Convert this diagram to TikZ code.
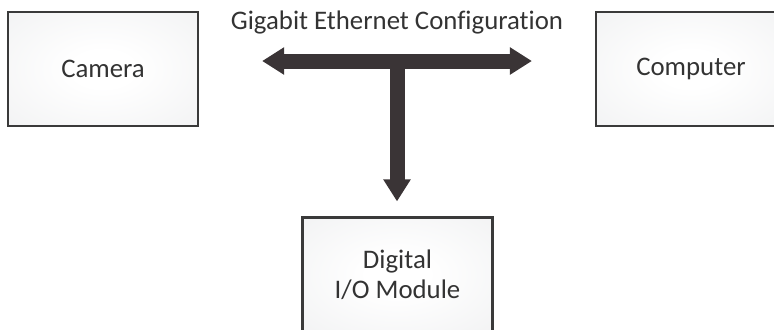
\documentclass[tikz,border=0pt]{standalone}
\usepackage{fontspec}
\setmainfont{Carlito}[Ligatures=NoCommon]
\usetikzlibrary{arrows.meta}

\definecolor{boxline}{HTML}{3A3A3A}
\definecolor{boxfill}{HTML}{E4E5E7}
\definecolor{arrowgray}{HTML}{3A3436}
\definecolor{textgray}{HTML}{333333}

\pgfdeclareradialshading{boxglow}{\pgfpoint{0bp}{0bp}}{%
  color(0bp)=(white); color(8bp)=(white); color(50bp)=(boxfill!70!white); color(71bp)=(boxfill)}

\tikzset{
  >={Triangle[width=13pt,length=11pt]},
  unit/.style={draw=boxline, line width=1.1pt, minimum width=95pt, minimum height=57pt,
    shading=boxglow, align=center, text=textgray,
    font=\fontsize{13.4}{15}\selectfont},
  link/.style={draw=arrowgray, line width=7.5pt}
}

\begin{document}
\begin{tikzpicture}[x=0.5pt,y=-0.5pt]
\useasboundingbox (0,0) rectangle (774,329);

% Boxes
\node [unit] (camera) at (103,69) {Camera};
\node [unit] (computer) at (691,69) {Computer};
\node [unit] (io) at (397.5,274.5) {Digital\\I/O Module};

% Title
\node [text=textgray, font=\fontsize{13.4}{15}\selectfont] (title) at (397,22) {Gigabit Ethernet Configuration};

% Arrows
\draw [link, <->, shorten <=31.5pt, shorten >=31.5pt] ([yshift=4pt]camera.east) -- ([yshift=4pt]computer.west);
\coordinate (hub) at (397,61);
\draw [link, ->, shorten >=7.5pt] (hub) -- (hub |- io.north);
\end{tikzpicture}
\end{document}
